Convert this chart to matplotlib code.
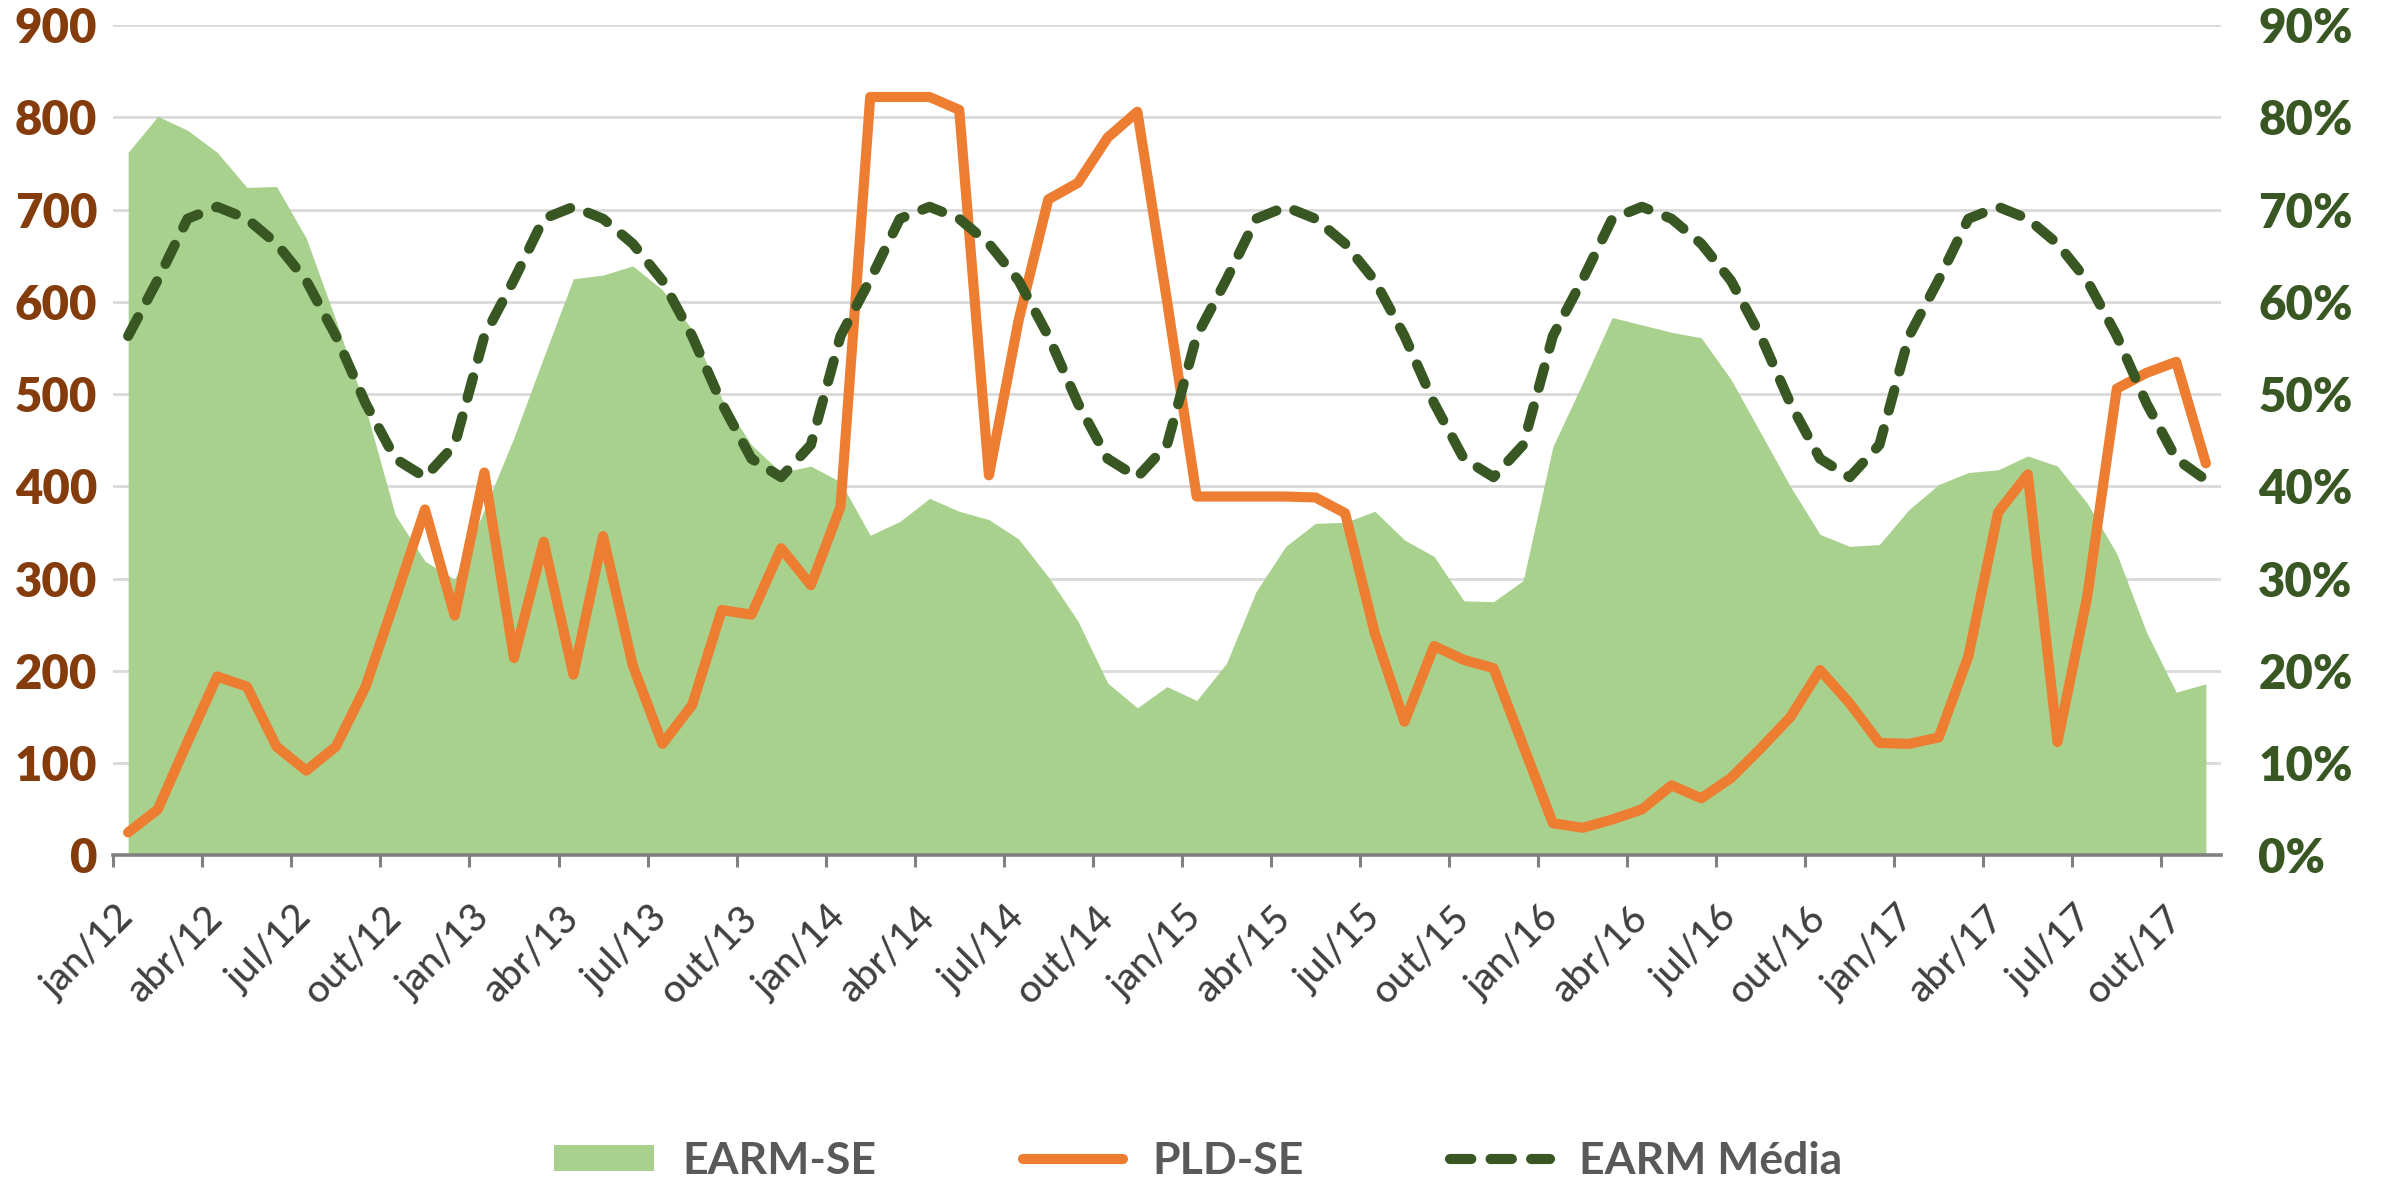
import matplotlib
matplotlib.use('Agg')
import matplotlib.pyplot as plt
import numpy as np

plt.rcParams['font.family'] = ['Lato', 'DejaVu Sans']

month_abbr = ['jan', 'fev', 'mar', 'abr', 'mai', 'jun', 'jul', 'ago', 'set', 'out', 'nov', 'dez']
years = ['12', '13', '14', '15', '16', '17']
categories = [f'{m}/{y}' for y in years for m in month_abbr][:71]

# PLD-SE (R$/MWh), left axis
pld_se = [25, 50, 123, 194, 183, 118, 92, 118, 183, 278, 375, 260,
          415, 214, 340, 196, 346, 206, 121, 163, 266, 261, 333, 293,
          378, 822, 822, 822, 808, 412, 580, 711, 729, 778, 806, 601,
          389, 389, 389, 389, 388, 371, 241, 145, 227, 212, 203, 119,
          35, 30, 39, 50, 76, 62, 84, 116, 150, 201, 165, 122,
          121, 128, 216, 372, 413, 123, 280, 506, 523, 535, 425]

# EARM-SE (%), right axis
earm_se = [76.2, 80.1, 78.6, 76.2, 72.4, 72.5, 66.9, 58.0, 48.5, 36.9, 31.9, 29.9,
           37.5, 45.3, 54.0, 62.5, 62.9, 63.9, 61.3, 57.0, 49.5, 44.5, 41.5, 42.2,
           40.5, 34.7, 36.2, 38.7, 37.3, 36.4, 34.3, 30.2, 25.4, 18.7, 16.0, 18.3,
           16.8, 20.8, 28.6, 33.5, 36.0, 36.1, 37.3, 34.2, 32.4, 27.6, 27.5, 29.8,
           44.3, 51.2, 58.3, 57.5, 56.7, 56.1, 51.6, 45.8, 40.0, 34.8, 33.5, 33.7,
           37.5, 40.2, 41.5, 41.8, 43.3, 42.2, 38.2, 32.7, 24.2, 17.7, 18.6]

# EARM Média (%), right axis
earm_media = [56.3, 62.4, 69.0, 70.3, 69.0, 66.3, 62.3, 56.3, 49.0, 43.0, 41.0, 44.5,
              56.3, 62.4, 69.0, 70.3, 69.0, 66.3, 62.3, 56.3, 49.0, 43.0, 41.0, 44.5,
              56.3, 62.4, 69.0, 70.3, 69.0, 66.3, 62.3, 56.3, 49.0, 43.0, 41.0, 44.5,
              56.3, 62.4, 69.0, 70.3, 69.0, 66.3, 62.3, 56.3, 49.0, 43.0, 41.0, 44.5,
              56.3, 62.4, 69.0, 70.3, 69.0, 66.3, 62.3, 56.3, 49.0, 43.0, 41.0, 44.5,
              56.3, 62.4, 69.0, 70.3, 69.0, 66.3, 62.3, 56.3, 49.0, 43.0, 40.7]

left_ticks = [0, 100, 200, 300, 400, 500, 600, 700, 800, 900]
left_labels = ['0', '100', '200', '300', '400', '500', '600', '700', '800', '900']
right_ticks = [0, 10, 20, 30, 40, 50, 60, 70, 80, 90]
right_labels = ['0%', '10%', '20%', '30%', '40%', '50%', '60%', '70%', '80%', '90%']
series_names = ['EARM-SE', 'PLD-SE', 'EARM Média']

x = np.arange(len(categories))

fig = plt.figure(figsize=(23.82, 11.82), dpi=100)
ax_area = fig.add_axes([0.04757, 0.27623, 0.88472, 0.70262])
ax_pld = ax_area.twinx()
ax_dash = ax_area.twinx()
ax_area.set_zorder(1)
ax_pld.set_zorder(2)
ax_dash.set_zorder(3)
ax_area.patch.set_facecolor('white')
ax_pld.patch.set_visible(False)
ax_dash.patch.set_visible(False)

h_area = ax_area.fill_between(x, 0, earm_se, color='#A9D18E', lw=0)
h_pld, = ax_pld.plot(x, pld_se, color='#ED7D31', lw=7.3,
                     solid_joinstyle='round', solid_capstyle='round')
h_dash, = ax_dash.plot(x, earm_media, color='#385723', lw=7.3,
                       dashes=(2.1, 1.9), dash_capstyle='round')

for a in (ax_area, ax_pld, ax_dash):
    a.set_xlim(-0.5, len(categories) - 0.5)
    for s in ('top', 'left', 'right'):
        a.spines[s].set_visible(False)
ax_pld.spines['bottom'].set_visible(False)
ax_dash.spines['bottom'].set_visible(False)
ax_area.spines['bottom'].set_color('#808080')
ax_area.spines['bottom'].set_linewidth(2.6)

ax_area.set_ylim(0, 90)
ax_dash.set_ylim(0, 90)
ax_pld.set_ylim(0, 900)

# right axis (percent) on the area axes
ax_area.yaxis.set_ticks_position('right')
ax_area.set_yticks(right_ticks, labels=right_labels, fontweight='heavy',
                   fontsize=34, color='#385723')
ax_area.tick_params(axis='y', length=0, pad=27)
ax_area.yaxis.grid(True, color='#D9D9D9', lw=2.0)
ax_area.set_axisbelow(True)

# left axis (PLD)
ax_pld.yaxis.set_ticks_position('left')
ax_pld.set_yticks(left_ticks, labels=left_labels, fontweight='heavy',
                  fontsize=34, color='#843C0C')
ax_pld.tick_params(axis='y', length=0, pad=11.5)

ax_dash.set_yticks([])

# x axis
ax_area.set_xticks(np.arange(-0.5, len(categories) - 1, 3))
ax_area.set_xticklabels([])
ax_area.set_xticks(x[::3], labels=categories[::3], minor=True, rotation=45,
                   ha='right', va='center', rotation_mode='anchor',
                   fontsize=28, color='#404040', fontweight='medium')
ax_area.tick_params(axis='x', which='major', length=8.6, width=2.2,
                    color='#808080', direction='out')
ax_area.tick_params(axis='x', which='minor', length=0, pad=41)

fig.legend([h_area, h_pld, h_dash], series_names, loc='center',
           bbox_to_anchor=(0.503, 0.018), ncol=3, frameon=False,
           prop={'weight': 'bold', 'size': 32}, labelcolor='#595959',
           handlelength=2.25, handleheight=0.52, handletextpad=0.65,
           columnspacing=3.3)

fig.savefig('out.png', dpi=100)
